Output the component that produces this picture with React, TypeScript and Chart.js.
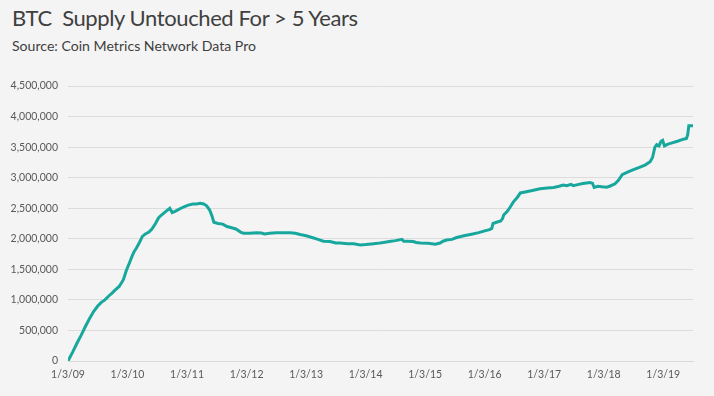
import React, { useEffect, useRef } from "react";
import { Chart, registerables } from "chart.js";

Chart.register(...registerables);

// Years elapsed since 1/3/09
const yearOffsets = [
  0, 0.08, 0.15, 0.22, 0.29, 0.36, 0.43, 0.5, 0.56, 0.62, 0.68, 0.74, 0.79, 0.86, 0.93, 0.98,
  1.03, 1.07, 1.11, 1.15, 1.2, 1.25, 1.3, 1.36, 1.41, 1.47, 1.52, 1.56, 1.61, 1.66, 1.71, 1.75,
  1.8, 1.86, 1.94, 2.02, 2.1, 2.16, 2.22, 2.28, 2.33, 2.38, 2.42, 2.45, 2.52, 2.6, 2.67, 2.75,
  2.82, 2.9, 2.95, 3.05, 3.17, 3.25, 3.3, 3.39, 3.5, 3.62, 3.73, 3.82, 3.9, 4.0, 4.1, 4.2,
  4.29, 4.4, 4.5, 4.57, 4.7, 4.8, 4.91, 5.0, 5.1, 5.2, 5.3, 5.4, 5.5, 5.61, 5.64, 5.7,
  5.8, 5.85, 5.92, 6.05, 6.17, 6.25, 6.3, 6.36, 6.45, 6.53, 6.65, 6.78, 6.9, 7.0, 7.08, 7.12,
  7.14, 7.2, 7.27, 7.3, 7.32, 7.38, 7.43, 7.48, 7.55, 7.6, 7.7, 7.8, 7.93, 8.05, 8.16, 8.25,
  8.32, 8.38, 8.45, 8.49, 8.58, 8.65, 8.77, 8.81, 8.84, 8.9, 8.97, 9.05, 9.1, 9.19, 9.25, 9.31,
  9.4, 9.5, 9.6, 9.7, 9.78, 9.82, 9.86, 9.89, 9.93, 9.96, 9.99, 10.02, 10.08, 10.15, 10.25, 10.34,
  10.39, 10.41, 10.43, 10.52,
];

const supplyBTC = [
  0, 150000, 290000, 420000, 560000, 690000, 810000, 900000, 960000, 1000000, 1060000, 1110000, 1160000, 1220000, 1330000, 1480000,
  1600000, 1700000, 1790000, 1850000, 1940000, 2040000, 2080000, 2110000, 2160000, 2250000, 2340000, 2380000, 2420000, 2460000, 2500000, 2430000,
  2450000, 2480000, 2520000, 2550000, 2570000, 2570000, 2580000, 2570000, 2540000, 2470000, 2370000, 2270000, 2250000, 2240000, 2200000, 2180000,
  2160000, 2110000, 2090000, 2090000, 2100000, 2095000, 2080000, 2090000, 2100000, 2100000, 2100000, 2090000, 2070000, 2050000, 2020000, 1990000,
  1960000, 1955000, 1930000, 1930000, 1920000, 1920000, 1900000, 1905000, 1915000, 1925000, 1940000, 1955000, 1970000, 1990000, 1960000, 1960000,
  1955000, 1940000, 1930000, 1925000, 1910000, 1930000, 1960000, 1980000, 1990000, 2020000, 2050000, 2075000, 2100000, 2130000, 2150000, 2170000,
  2250000, 2270000, 2290000, 2330000, 2390000, 2450000, 2520000, 2600000, 2680000, 2750000, 2770000, 2790000, 2820000, 2830000, 2840000, 2860000,
  2880000, 2870000, 2890000, 2870000, 2890000, 2905000, 2920000, 2910000, 2840000, 2860000, 2850000, 2845000, 2860000, 2900000, 2960000, 3050000,
  3090000, 3130000, 3170000, 3210000, 3260000, 3330000, 3500000, 3540000, 3520000, 3590000, 3610000, 3520000, 3550000, 3570000, 3600000, 3630000,
  3640000, 3700000, 3850000, 3850000,
];

const xTickLabels = [
  "1/3/09", "1/3/10", "1/3/11", "1/3/12", "1/3/13", "1/3/14",
  "1/3/15", "1/3/16", "1/3/17", "1/3/18", "1/3/19",
];

const titleText = "BTC  Supply Untouched For > 5 Years";
const subtitleText = "Source: Coin Metrics Network Data Pro";

export default function App() {
  const canvasRef = useRef<HTMLCanvasElement | null>(null);

  useEffect(() => {
    if (!canvasRef.current) return;
    const points = yearOffsets.map((x, i) => ({ x, y: supplyBTC[i] }));
    const tickFont = { family: "Lato, 'Open Sans', sans-serif", size: 10.5 };
    const chart = new Chart(canvasRef.current, {
      type: "line",
      data: {
        datasets: [
          {
            data: points,
            borderColor: "#18a79d",
            borderWidth: 3,
            pointRadius: 0,
            tension: 0,
            fill: false,
          },
        ],
      },
      options: {
        animation: false,
        responsive: false,
        maintainAspectRatio: false,
        layout: { padding: { top: 86, right: 21, bottom: 0, left: 0 } },
        plugins: { legend: { display: false }, tooltip: { enabled: false } },
        scales: {
          x: {
            type: "linear",
            min: 0,
            max: 10.5,
            grid: { display: false, drawTicks: false },
            border: { display: true, color: "#d9d9d9", width: 1 },
            afterBuildTicks: (scale: any) => {
              scale.ticks = xTickLabels.map((_, i) => ({ value: i }));
            },
            afterFit: (scale: any) => {
              scale.height = 35;
            },
            ticks: {
              autoSkip: false,
              maxRotation: 0,
              padding: 7,
              color: "#595959",
              font: tickFont,
              callback: (v: any) => xTickLabels[Math.round(Number(v))] ?? "",
            },
          },
          y: {
            min: 0,
            max: 4500000,
            grid: { color: "#dcdcdc", lineWidth: 1, drawTicks: false },
            border: { display: false },
            afterFit: (scale: any) => {
              scale.width = 68;
            },
            ticks: {
              stepSize: 500000,
              padding: 10,
              color: "#595959",
              font: tickFont,
              callback: (v: any) => Number(v).toLocaleString("en-US"),
            },
          },
        },
      },
    });
    return () => chart.destroy();
  }, []);

  return (
    <div
      style={{
        position: "absolute",
        left: 0,
        top: 0,
        width: 714,
        height: 396,
        background: "#f4f4f4",
        overflow: "hidden",
      }}
    >
      <div
        style={{
          position: "absolute",
          left: 12,
          top: 4,
          fontFamily: "Lato, 'Open Sans', sans-serif",
          fontSize: 22,
          letterSpacing: -0.4,
          color: "#404040",
          whiteSpace: "pre",
          lineHeight: "28px",
        }}
      >
        {titleText}
      </div>
      <div
        style={{
          position: "absolute",
          left: 12,
          top: 37,
          fontFamily: "Lato, 'Open Sans', sans-serif",
          fontSize: 14.1,
          color: "#404040",
          whiteSpace: "pre",
          lineHeight: "18px",
        }}
      >
        {subtitleText}
      </div>
      <canvas
        ref={canvasRef}
        width={714}
        height={396}
        style={{ position: "absolute", left: 0, top: 0, width: 714, height: 396 }}
      />
    </div>
  );
}
